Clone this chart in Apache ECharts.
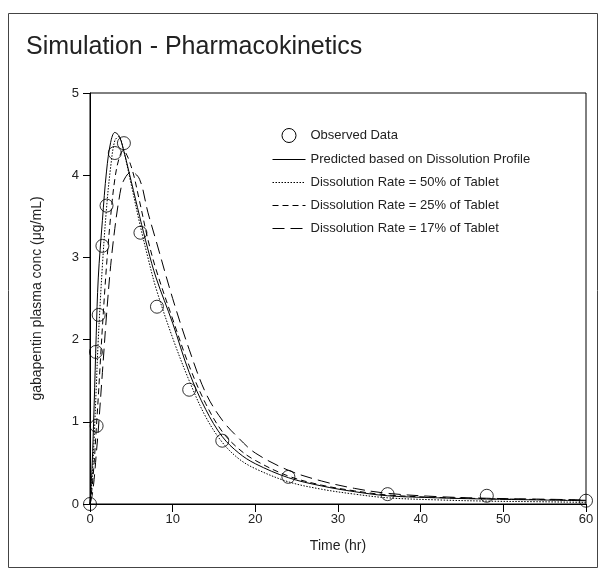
<!DOCTYPE html>
<html><head><meta charset="utf-8">
<script src="https://cdn.jsdelivr.net/npm/echarts@6/dist/echarts.min.js"></script>
<style>html,body{margin:0;padding:0;background:#fff}#c{width:604px;height:576px}</style>
</head><body><div id="c"></div>
<script>
// Observed data
const obsTime = [0, 0.8, 0.72, 1.05, 1.5, 2, 3, 4.1, 6.1, 8.1, 12, 16, 24, 36, 48, 60];
const obsConc = [0, 0.95, 1.85, 2.3, 3.14, 3.63, 4.27, 4.39, 3.3, 2.4, 1.39, 0.77, 0.33, 0.12, 0.1, 0.04];
// Simulated curves
const simTime = [0, 0.25, 0.5, 0.75, 1, 1.5, 2, 2.5, 3, 3.5, 4, 5, 6, 7, 8, 10, 12, 14, 16, 18, 20, 24, 28, 32, 36, 42, 48, 54, 60];
const predicted = [0, 0.45, 1.2, 2.05, 2.75, 3.45, 4.05, 4.4, 4.52, 4.48, 4.33, 3.92, 3.5, 3.1, 2.75, 2.2, 1.6, 1.15, 0.82, 0.62, 0.49, 0.32, 0.22, 0.15, 0.1, 0.075, 0.06, 0.05, 0.04];
const rate50 = [0, 0.3, 0.8, 1.4, 2.0, 2.9, 3.6, 4.1, 4.42, 4.47, 4.33, 3.88, 3.42, 3.0, 2.62, 2.02, 1.5, 1.06, 0.75, 0.55, 0.43, 0.27, 0.18, 0.12, 0.075, 0.05, 0.035, 0.028, 0.02];
const rate25 = [0, 0.2, 0.5, 0.9, 1.3, 2.15, 2.9, 3.5, 3.95, 4.2, 4.3, 4.1, 3.68, 3.22, 2.85, 2.25, 1.68, 1.22, 0.88, 0.67, 0.53, 0.34, 0.23, 0.16, 0.11, 0.08, 0.065, 0.055, 0.045];
const rate17 = [0, 0.1, 0.3, 0.6, 0.9, 1.6, 2.3, 2.9, 3.35, 3.7, 3.92, 4.04, 3.95, 3.55, 3.2, 2.5, 1.88, 1.35, 1.02, 0.8, 0.62, 0.41, 0.28, 0.19, 0.13, 0.09, 0.07, 0.06, 0.05];
const xTicks = [0, 10, 20, 30, 40, 50, 60];
const yTicks = [0, 1, 2, 3, 4, 5];
const names = ['Observed Data', 'Predicted based on Dissolution Profile', 'Dissolution Rate = 50% of Tablet', 'Dissolution Rate = 25% of Tablet', 'Dissolution Rate = 17% of Tablet'];

const pair = (xs, ys) => xs.map((x, i) => [x, ys[i]]);
const FONT = 'Liberation Sans';
const TXT = '#222';

const lineSeries = (name, ys, type) => ({
  name, type: 'line', data: pair(simTime, ys), symbol: 'none', smooth: 0.35,
  lineStyle: { color: '#000', width: 1, type }, itemStyle: { color: '#000' }, z: 2
});

const chart = echarts.init(document.getElementById('c'), null, { renderer: 'canvas' });
chart.setOption({
  animation: false,
  backgroundColor: '#fff',
  textStyle: { fontFamily: FONT },
  title: { text: 'Simulation - Pharmacokinetics', left: 21, top: 30,
    textStyle: { fontFamily: FONT, fontSize: 25, fontWeight: 'normal', color: TXT } },
  graphic: [{ type: 'rect', shape: { x: 8.5, y: 13.5, width: 589, height: 554 },
    style: { fill: 'none', stroke: '#444', lineWidth: 1 }, silent: true }],
  legend: {
    orient: 'vertical', left: 267, top: 123, itemWidth: 33, itemHeight: 14, itemGap: 10,
    itemStyle: { color: 'transparent', borderColor: 'transparent', borderWidth: 0, opacity: 0 },
    lineStyle: { width: 1, color: '#000' },
    data: [
      { name: names[0], icon: 'circle', itemStyle: { color: 'transparent', borderColor: '#000', borderWidth: 1, opacity: 1 } },
      names[1], names[2], names[3], names[4]
    ],
    textStyle: { fontFamily: FONT, fontSize: 13, color: TXT }
  },
  grid: { left: 90, right: 18, top: 93, bottom: 72, show: true, borderColor: '#000', borderWidth: 1, backgroundColor: 'transparent' },
  xAxis: {
    type: 'value', min: xTicks[0], max: xTicks[xTicks.length - 1], interval: 10,
    name: 'Time (hr)', nameLocation: 'middle', nameGap: 35,
    nameTextStyle: { fontFamily: FONT, fontSize: 14, color: TXT },
    axisLine: { show: true, onZero: false, lineStyle: { color: '#000', width: 1 } },
    axisTick: { show: true, inside: false, length: 8, lineStyle: { color: '#000' } },
    axisLabel: { fontFamily: FONT, fontSize: 13, color: TXT, margin: 9 },
    splitLine: { show: false }
  },
  yAxis: {
    type: 'value', min: yTicks[0], max: yTicks[yTicks.length - 1], interval: 1,
    name: 'gabapentin plasma conc (μg/mL)', nameLocation: 'middle', nameGap: 46, nameRotate: 90,
    nameTextStyle: { fontFamily: FONT, fontSize: 14, color: TXT },
    axisLine: { show: true, onZero: false, lineStyle: { color: '#000', width: 1 } },
    axisTick: { show: true, inside: false, length: 7, lineStyle: { color: '#000' } },
    axisLabel: { fontFamily: FONT, fontSize: 13, color: TXT, margin: 11 },
    splitLine: { show: false }
  },
  series: [
    { name: names[0], type: 'scatter', data: pair(obsTime, obsConc), symbol: 'circle', symbolSize: 13,
      itemStyle: { color: 'transparent', borderColor: '#000', borderWidth: 1 }, z: 3 },
    lineSeries(names[1], predicted, 'solid'),
    lineSeries(names[2], rate50, [1.5, 1.5]),
    lineSeries(names[3], rate25, [6, 4]),
    lineSeries(names[4], rate17, [12, 6])
  ]
});
</script></body></html>
